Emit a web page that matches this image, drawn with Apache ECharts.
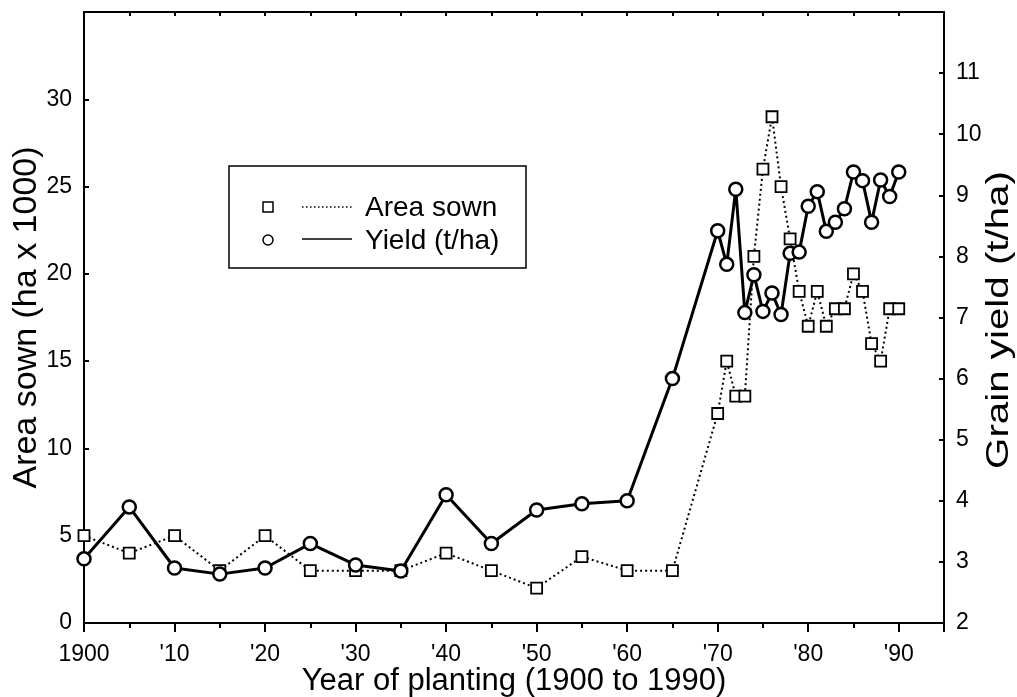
<!DOCTYPE html>
<html>
<head>
<meta charset="utf-8">
<script src="https://cdn.jsdelivr.net/npm/echarts@6/dist/echarts.min.js"></script>
<style>
  html, body { margin: 0; padding: 0; background: #fff; }
  #chart { width: 1017px; height: 697px; }
</style>
</head>
<body>
<div id="chart"></div>
<script>
// year of planting
const years = [1900, 1905, 1910, 1915, 1920, 1925, 1930, 1935, 1940, 1945, 1950, 1955, 1960, 1965,
  1970, 1971, 1972, 1973, 1974, 1975, 1976, 1977, 1978, 1979, 1980,
  1981, 1982, 1983, 1984, 1985, 1986, 1987, 1988, 1989, 1990];

// area sown (ha x 1000)
const areaSown = [5, 4, 5, 3, 5, 3, 3, 3, 4, 3, 2, 3.8, 3, 3,
  12, 15, 13, 13, 21, 26, 29, 25, 22, 19, 17,
  19, 17, 18, 18, 20, 19, 16, 15, 18, 18];

// grain yield (t/ha)
const grainYield = [3.05, 3.9, 2.9, 2.8, 2.9, 3.3, 2.95, 2.85, 4.1, 3.3, 3.85, 3.95, 4.0, 6.0,
  8.42, 7.87, 9.1, 7.08, 7.7, 7.1, 7.4, 7.05, 8.05, 8.07, 8.82,
  9.06, 8.41, 8.56, 8.78, 9.38, 9.24, 8.56, 9.25, 8.98, 9.38];

const font = 'Liberation Sans, Arial, Helvetica, sans-serif';
const chart = echarts.init(document.getElementById('chart'));

const yearLabel = v => (v === 1900 ? '1900' : (v % 10 === 0 && v <= 1990 ? "'" + String(v).slice(2) : ''));

const option = {
  backgroundColor: '#fff',
  animation: false,
  grid: { left: 84, right: 73, top: 12, bottom: 74, containLabel: false, outerBoundsMode: 'none' },
  xAxis: [
    {
      type: 'value', position: 'bottom', min: 1900, max: 1995, interval: 10,
      name: 'Year of planting (1900 to 1990)', nameLocation: 'middle', nameGap: 43, nameMoveOverlap: false,
      nameTextStyle: { fontFamily: font, fontSize: 31, color: '#000' },
      axisLine: { lineStyle: { color: '#000', width: 2 } },
      axisTick: { inside: false, length: 9, lineStyle: { color: '#000', width: 2 } },
      axisLabel: { formatter: yearLabel, fontFamily: font, fontSize: 23, color: '#000', margin: 20 },
      splitLine: { show: false }
    },
    {
      // 5-year minor ticks below
      type: 'value', position: 'bottom', min: 1900, max: 1995, interval: 5,
      axisLine: { show: false },
      axisTick: { inside: false, length: 5, lineStyle: { color: '#000', width: 2 } },
      axisLabel: { show: false },
      splitLine: { show: false }
    },
    {
      // top frame
      type: 'value', position: 'top', min: 1900, max: 1995, interval: 5,
      axisLine: { lineStyle: { color: '#000', width: 2 } },
      axisTick: { inside: true, length: 4, lineStyle: { color: '#000', width: 2 } },
      axisLabel: { show: false },
      splitLine: { show: false }
    }
  ],
  yAxis: [
    {
      type: 'value', position: 'left', min: 0, max: 35, interval: 5,
      name: 'Area sown (ha x 1000)', nameLocation: 'middle', nameGap: 40, nameRotate: 90, nameMoveOverlap: false,
      nameTextStyle: { fontFamily: font, fontSize: 34, color: '#000' },
      axisLine: { show: true, lineStyle: { color: '#000', width: 2 } },
      axisTick: { show: true, inside: true, length: 5, lineStyle: { color: '#000', width: 2 } },
      axisLabel: { formatter: v => (v <= 30 ? String(v) : ''), fontFamily: font, fontSize: 23, color: '#000', margin: 12 },
      splitLine: { show: false }
    },
    {
      type: 'value', position: 'right', min: 2, max: 12, interval: 1,
      axisLine: { show: true, lineStyle: { color: '#000', width: 2 } },
      axisTick: { show: true, inside: true, length: 5, lineStyle: { color: '#000', width: 2 } },
      axisLabel: { formatter: v => (v <= 11 ? String(v) : ''), fontFamily: font, fontSize: 23, color: '#000', margin: 12 },
      splitLine: { show: false }
    }
  ],
  graphic: [
    // right axis title (wide lettering in the original)
    { type: 'text', x: 999, y: 320, rotation: Math.PI / 2, scaleX: 1.3,
      style: { text: 'Grain yield (t/ha)', font: '31px ' + font, fill: '#000', align: 'center', verticalAlign: 'middle' } },
    // legend
    { type: 'rect', shape: { x: 229, y: 166, width: 297, height: 102 },
      style: { fill: '#fff', stroke: '#000', lineWidth: 1.5 }, z: 10 },
    { type: 'rect', shape: { x: 263, y: 202, width: 10, height: 10 },
      style: { fill: '#fff', stroke: '#000', lineWidth: 1.5 }, z: 11 },
    { type: 'line', shape: { x1: 302, y1: 207, x2: 352, y2: 207 },
      style: { stroke: '#000', lineWidth: 1.5, lineDash: [1.5, 2.5] }, z: 11 },
    { type: 'text', x: 365, y: 208,
      style: { text: 'Area sown', font: '28px ' + font, fill: '#000', verticalAlign: 'middle' }, z: 11 },
    { type: 'circle', shape: { cx: 268, cy: 240, r: 5 },
      style: { fill: '#fff', stroke: '#000', lineWidth: 1.5 }, z: 11 },
    { type: 'line', shape: { x1: 302, y1: 239, x2: 352, y2: 239 },
      style: { stroke: '#000', lineWidth: 1.5 }, z: 11 },
    { type: 'text', x: 365, y: 241,
      style: { text: 'Yield (t/ha)', font: '28px ' + font, fill: '#000', verticalAlign: 'middle' }, z: 11 }
  ],
  series: [
    {
      name: 'Area sown', type: 'line', xAxisIndex: 0, yAxisIndex: 0,
      data: years.map((y, i) => [y, areaSown[i]]),
      symbol: 'rect', symbolSize: 11,
      itemStyle: { color: '#fff', borderColor: '#000', borderWidth: 1.8 },
      lineStyle: { color: '#000', width: 2, type: [2, 3] },
      z: 2
    },
    {
      name: 'Yield (t/ha)', type: 'line', xAxisIndex: 0, yAxisIndex: 1,
      data: years.map((y, i) => [y, grainYield[i]]),
      symbol: 'circle', symbolSize: 13,
      itemStyle: { color: '#fff', borderColor: '#000', borderWidth: 2.5 },
      lineStyle: { color: '#000', width: 3 },
      z: 3
    }
  ]
};

chart.setOption(option);
</script>
</body>
</html>
